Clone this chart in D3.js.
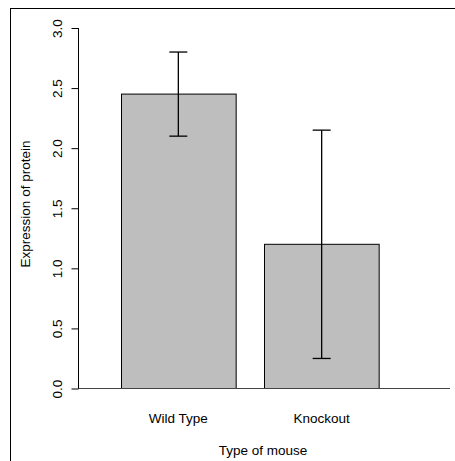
<!DOCTYPE html>
<html lang="en">
<head>
<meta charset="UTF-8">
<title>Expression of protein by type of mouse</title>
<script src="https://d3js.org/d3.v7.min.js"></script>
<style>
    body { margin: 0; background: #fff; }
    svg { font-family: "Liberation Sans", Arial, sans-serif; }
</style>
</head>
<body>
<div id="chart"></div>
<script>
// data
var mouseTypes = ['Wild Type', 'Knockout'];
var expression = [2.45, 1.2];
var errLow = [2.1, 0.25];
var errHigh = [2.8, 2.15];
var yTicks = [0, 0.5, 1, 1.5, 2, 2.5, 3];

var W = 455, H = 461;
var plot = {left: 78, right: 450, top: 28, bottom: 388.5};
var fs = 13.5;

var svg = d3.select('#chart').append('svg')
    .attr('width', W)
    .attr('height', H);

// outer frame (runs off the right/bottom edge like the original)
svg.append('rect')
    .attr('x', 10.5).attr('y', 8.5)
    .attr('width', 470).attr('height', 470)
    .attr('fill', 'none')
    .attr('stroke', '#000');

var x = d3.scaleBand().domain(mouseTypes).range([121, 379]).paddingInner(0.2);
var y = d3.scaleLinear().domain([0, 3]).range([plot.bottom, plot.top]);

// bars
svg.selectAll('rect.bar')
    .data(mouseTypes)
    .enter().append('rect')
    .attr('class', 'bar')
    .attr('x', d => Math.round(x(d)) + 0.5)
    .attr('y', (d, i) => y(expression[i]))
    .attr('width', x.bandwidth())
    .attr('height', (d, i) => y(0) - y(expression[i]))
    .attr('fill', '#bebebe')
    .attr('stroke', '#000');

// baseline
svg.append('line')
    .attr('x1', plot.left).attr('x2', plot.right)
    .attr('y1', y(0)).attr('y2', y(0))
    .attr('stroke', '#444');

// error bars
var capW = 9;
var eb = svg.selectAll('g.err')
    .data(mouseTypes)
    .enter().append('g')
    .attr('class', 'err')
    .attr('stroke', '#000')
    .attr('stroke-width', 1.3);
eb.append('line')
    .attr('x1', d => x(d) + x.bandwidth() / 2)
    .attr('x2', d => x(d) + x.bandwidth() / 2)
    .attr('y1', (d, i) => y(errLow[i]))
    .attr('y2', (d, i) => y(errHigh[i]));
eb.append('line')
    .attr('x1', d => x(d) + x.bandwidth() / 2 - capW)
    .attr('x2', d => x(d) + x.bandwidth() / 2 + capW)
    .attr('y1', (d, i) => y(errHigh[i]))
    .attr('y2', (d, i) => y(errHigh[i]));
eb.append('line')
    .attr('x1', d => x(d) + x.bandwidth() / 2 - capW)
    .attr('x2', d => x(d) + x.bandwidth() / 2 + capW)
    .attr('y1', (d, i) => y(errLow[i]))
    .attr('y2', (d, i) => y(errLow[i]));

// y axis, R style with rotated labels
var yAxis = svg.append('g')
    .attr('transform', 'translate(' + (plot.left + 0.5) + ',0)')
    .call(d3.axisLeft(y).tickValues(yTicks).tickFormat(d3.format('.1f')).tickSize(7));
yAxis.select('.domain').attr('d', 'M0,' + y(0) + 'V' + y(3)).attr('stroke', '#000');
yAxis.selectAll('line').attr('stroke', '#000');
yAxis.selectAll('text')
    .attr('font-size', fs)
    .attr('font-family', '"Liberation Sans", Arial, sans-serif')
    .attr('fill', '#000')
    .attr('x', null)
    .attr('dy', null)
    .attr('text-anchor', 'middle')
    .attr('transform', 'translate(-16.5,0) rotate(-90)');

// category labels
svg.selectAll('text.cat')
    .data(mouseTypes)
    .enter().append('text')
    .attr('class', 'cat')
    .attr('x', d => x(d) + x.bandwidth() / 2)
    .attr('y', 423)
    .attr('text-anchor', 'middle')
    .attr('font-size', fs)
    .text(d => d);

// axis titles
svg.append('text')
    .attr('x', (plot.left + plot.right) / 2 - 1)
    .attr('y', 455)
    .attr('text-anchor', 'middle')
    .attr('font-size', fs)
    .text('Type of mouse');

svg.append('text')
    .attr('transform', 'translate(30,204) rotate(-90)')
    .attr('text-anchor', 'middle')
    .attr('font-size', fs)
    .text('Expression of protein');
</script>
</body>
</html>
